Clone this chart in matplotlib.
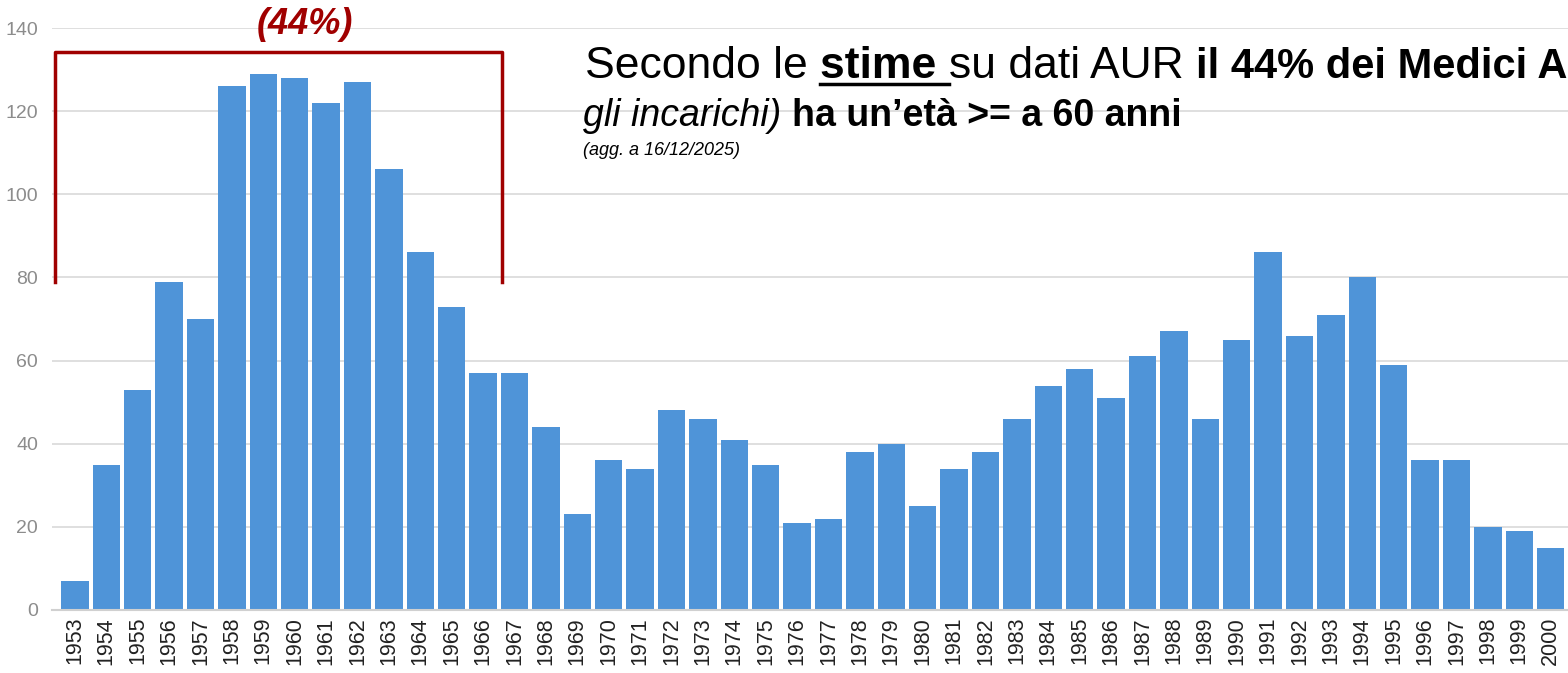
import matplotlib
matplotlib.use("Agg")
import matplotlib.pyplot as plt
from matplotlib.lines import Line2D

plt.rcParams['font.family'] = ['Liberation Sans', 'DejaVu Sans']

# --- data ---
years = list(range(1953, 2001))
counts = [7, 35, 53, 79, 70, 126, 129, 128, 122, 127, 106, 86, 73, 57, 57,
          44, 23, 36, 34, 48, 46, 41, 35, 21, 22, 38, 40, 25, 34, 38,
          46, 54, 58, 51, 61, 67, 46, 65, 86, 66, 71, 80, 59, 36, 36,
          20, 19, 15]
y_ticks = [0, 20, 40, 60, 80, 100, 120, 140]
bracket_first, bracket_last = 1953, 1966
bracket_label = "(44%)"

W, H = 1568, 673
bar_color = '#4F94D8'
red = '#A00000'

fig = plt.figure(figsize=(W / 100, H / 100), dpi=100)
ax = fig.add_axes([52 / W, 63 / H, 1 - 52 / W, (610 - 28) / H])

pos = list(range(len(years)))
ax.bar(pos, counts, width=0.87, color=bar_color, zorder=2)

ax.set_xlim(-0.73, len(years) - 0.45)
ax.set_ylim(0, 140)
ax.set_yticks(y_ticks)
ax.set_xticks(pos)
ax.set_xticklabels([str(y) for y in years], rotation=90, fontsize=15.5, color='#222222')
ax.tick_params(axis='y', labelsize=14, labelcolor='#8c8c8c', length=0, pad=10)
ax.tick_params(axis='x', length=0, pad=5)
ax.grid(axis='y', color='#d9d9d9', linewidth=1.2, zorder=0)
for s in ['top', 'right', 'left']:
    ax.spines[s].set_visible(False)
ax.spines['bottom'].set_color('#d0d0d0')
ax.spines['bottom'].set_linewidth(1.5)
ax.spines['bottom'].set_zorder(3)

# red bracket over the older cohort
i0 = years.index(bracket_first)
i1 = years.index(bracket_last)
bx = [i0 - 0.64, i0 - 0.64, i1 + 0.6, i1 + 0.6]
by = [79, 134.2, 134.2, 79]
ax.plot(bx, by, color=red, linewidth=2.5, clip_on=False, zorder=4)
fig.text(305 / W, 1 - 24 / H, bracket_label, color=red, fontsize=26,
         fontweight='bold', fontstyle='italic', ha='center', va='center')

# annotation text, built piece by piece
renderer = fig.canvas.get_renderer()


def chain(x0, y_base, pieces):
    x = x0
    boxes = []
    for s, kw in pieces:
        t = fig.text(x / W, 1 - y_base / H, s, va='baseline', **kw)
        bb = t.get_window_extent(renderer)
        boxes.append(bb)
        x = bb.x1
    return boxes


big = 32
line1 = [
    ("Secondo le ", dict(fontsize=big, color='black')),
    ("stime ", dict(fontsize=big, color='black', fontweight='bold')),
    ("su dati AUR ", dict(fontsize=big, color='black')),
    ("il 44% dei Medici A", dict(fontsize=big - 2, color='black', fontweight='bold')),
]
boxes = chain(585, 78, line1)
ub = boxes[1]
fig.add_artist(Line2D([ub.x0 / W, ub.x1 / W], [1 - 84 / H, 1 - 84 / H],
                      color='black', linewidth=2.5))

line2 = [
    ("gli incarichi) ", dict(fontsize=27, color='black', fontstyle='italic')),
    ("ha un\u2019et\u00e0 >= a 60 anni", dict(fontsize=27, color='black', fontweight='bold')),
]
chain(583, 126, line2)
fig.text(583 / W, 1 - 155 / H, "(agg. a 16/12/2025)", fontsize=13,
         fontstyle='italic', color='black', va='baseline')

fig.savefig("out.png", dpi=100)
